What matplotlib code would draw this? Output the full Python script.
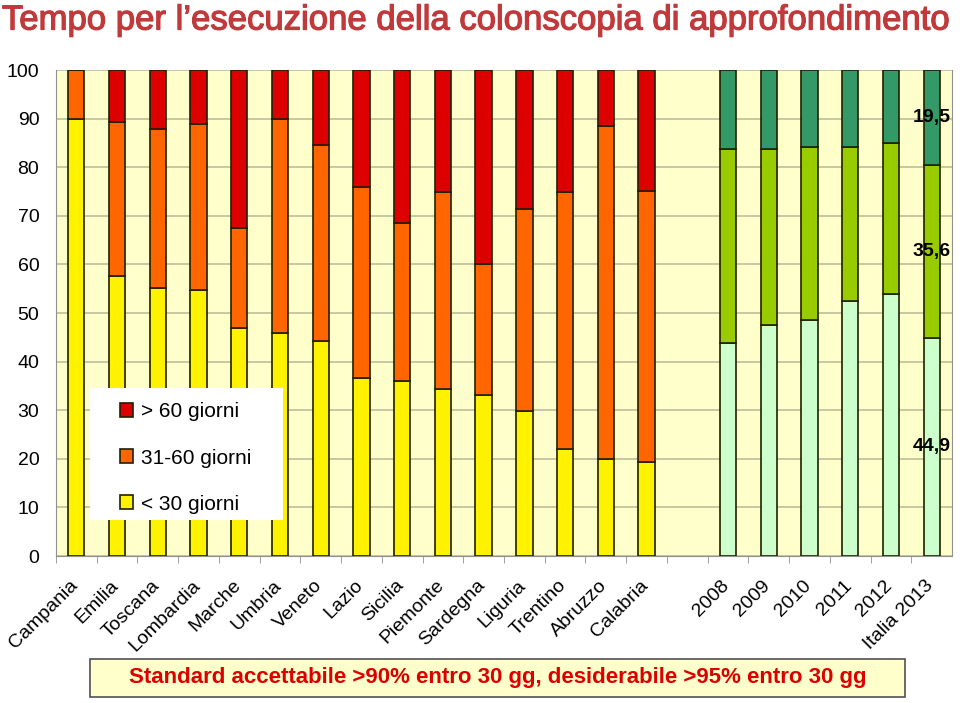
import matplotlib.pyplot as plt
import matplotlib.transforms as mtransforms
import matplotlib.patheffects as pe
from matplotlib.patches import Rectangle
import numpy as np

plt.rcParams['font.family'] = ['Liberation Sans', 'DejaVu Sans']

regions = ["Campania", "Emilia", "Toscana", "Lombardia", "Marche", "Umbria", "Veneto",
           "Lazio", "Sicilia", "Piemonte", "Sardegna", "Liguria", "Trentino", "Abruzzo", "Calabria"]
reg_lt30 = [90.0, 57.7, 55.1, 54.8, 46.9, 45.9, 44.3, 36.6, 36.1, 34.4, 33.1, 29.9, 22.1, 19.9, 19.3]
reg_31_60 = [10.0, 31.7, 32.8, 34.0, 20.5, 44.0, 40.2, 39.4, 32.5, 40.4, 26.9, 41.4, 52.7, 68.6, 55.9]
reg_gt60 = [0.0, 10.6, 12.1, 11.2, 32.6, 10.1, 15.5, 24.0, 31.4, 25.2, 40.0, 28.7, 25.2, 11.5, 24.8]

years = ["2008", "2009", "2010", "2011", "2012", "Italia 2013"]
yr_lt30 = [43.9, 47.5, 48.5, 52.4, 53.9, 44.9]
yr_31_60 = [39.8, 36.2, 35.7, 31.8, 31.1, 35.6]
yr_gt60 = [16.3, 16.3, 15.8, 15.8, 15.0, 19.5]

legend_labels = ["> 60 giorni", "31-60 giorni", "< 30 giorni"]
reg_colors = ["#FFF200", "#FF6600", "#DD0000"]
yr_colors = ["#CCFFCC", "#99CC00", "#339966"]

fig = plt.figure(figsize=(9.6, 7.03), dpi=100)
ax = fig.add_axes([0.0583, 0.2091, 0.9334, 0.6913])
ax.set_facecolor("#FFFFCC")

xr = np.arange(len(regions))
xy = np.arange(len(years)) + len(regions) + 1
w = 0.4
ec = "#202000"

b1 = ax.bar(xr, reg_lt30, w, color=reg_colors[0], edgecolor=ec, linewidth=1.2, zorder=3)
b2 = ax.bar(xr, reg_31_60, w, bottom=reg_lt30, color=reg_colors[1], edgecolor=ec, linewidth=1.2, zorder=3)
bot = np.array(reg_lt30) + np.array(reg_31_60)
b3 = ax.bar(xr, reg_gt60, w, bottom=bot, color=reg_colors[2], edgecolor=ec, linewidth=1.2, zorder=3)

ax.bar(xy, yr_lt30, w, color=yr_colors[0], edgecolor=ec, linewidth=1.2, zorder=3)
ax.bar(xy, yr_31_60, w, bottom=yr_lt30, color=yr_colors[1], edgecolor=ec, linewidth=1.2, zorder=3)
ybot = np.array(yr_lt30) + np.array(yr_31_60)
ax.bar(xy, yr_gt60, w, bottom=ybot, color=yr_colors[2], edgecolor=ec, linewidth=1.2, zorder=3)

# value labels on the Italia 2013 bar
xi = xy[-1]
for b, v in [(0, yr_lt30[-1]), (yr_lt30[-1], yr_31_60[-1]), (ybot[-1], yr_gt60[-1])]:
    ax.text(xi, b + v / 2, ("%.1f" % v).replace(".", ","), ha="center", va="center",
            fontsize=14, fontweight="bold", zorder=5)

ax.set_xlim(-0.5, len(regions) + len(years) + 0.5)
ax.set_ylim(0, 100)
ax.set_yticks(range(0, 101, 10))
ax.tick_params(axis="y", length=0, labelsize=14, pad=12)
ax.yaxis.grid(True, color="#BDBD9A", linewidth=1.2, zorder=0)

ax.set_xticks(np.arange(-0.5, len(regions) + len(years) + 0.5, 1), minor=True)
ax.tick_params(axis="x", which="minor", length=5, color="#909090")
ax.set_xticks(list(xr) + list(xy))
ax.set_xticklabels(regions + years, rotation=45, ha="right", va="top",
                   rotation_mode="anchor", fontsize=14)
ax.tick_params(axis="x", which="major", length=0, pad=15)
shift = mtransforms.ScaledTranslation(-7 / 100, 0, fig.dpi_scale_trans)
for lab in ax.get_xticklabels():
    lab.set_transform(lab.get_transform() + shift)

ax.spines["top"].set_visible(False)
for s in ["left", "bottom", "right"]:
    ax.spines[s].set_color("#909090")

# legend box
ax.add_patch(Rectangle((0.038, 0.074), 0.215, 0.272, transform=ax.transAxes,
                       facecolor="white", edgecolor="none", zorder=6))
leg = ax.legend([b3, b2, b1], legend_labels, loc="upper left", bbox_to_anchor=(0.0714, 0.316),
                fontsize=15, frameon=False, handlelength=0.65, handleheight=0.65,
                labelspacing=1.3, borderpad=0, handletextpad=0.35, borderaxespad=0)
leg.set_zorder(7)

fig.text(0.002, 0.995, "Tempo per l\u2019esecuzione della colonscopia di approfondimento",
         color="#C0393B", fontsize=25, ha="left", va="top",
         path_effects=[pe.withStroke(linewidth=0.9, foreground="#C0393B")])

fig.patches.append(Rectangle((0.09375, 0.00853), 0.849, 0.054, transform=fig.transFigure,
                             facecolor="#FFFFCC", edgecolor="#505050", linewidth=1.2))
fig.text(0.518, 0.0356, "Standard accettabile >90% entro 30 gg, desiderabile >95% entro 30 gg",
         color="#DD0000", fontsize=16, fontweight="bold", ha="center", va="center")

fig.savefig("out.png", dpi=100)
